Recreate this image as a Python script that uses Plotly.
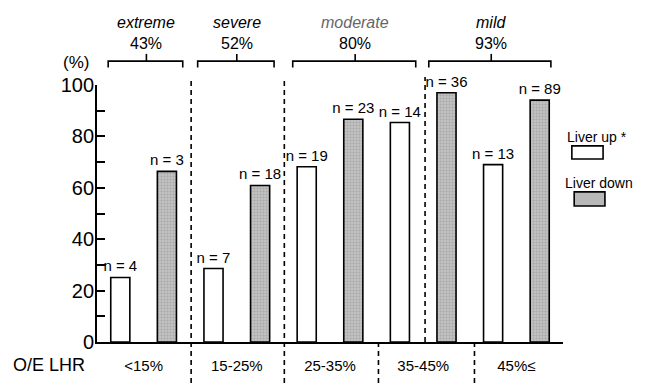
import plotly.graph_objects as go

# ---- data ----
categories = ["<15%", "15-25%", "25-35%", "35-45%", "45%≤"]
liver_up = [25.1, 28.6, 68.2, 85.4, 69.0]
liver_down = [66.4, 60.9, 86.7, 97.0, 94.1]
n_up = ["n = 4", "n = 7", "n = 19", "n = 14", "n = 13"]
n_down = ["n = 3", "n = 18", "n = 23", "n = 36", "n = 89"]
severity = ["extreme", "severe", "moderate", "mild"]
severity_pct = ["43%", "52%", "80%", "93%"]
y_ticks = [0, 20, 40, 60, 80, 100]

FONT = "Liberation Sans, Arial, sans-serif"

fig = go.Figure()
fig.add_trace(go.Bar(
    x=categories, y=liver_up, name="Liver up *",
    marker=dict(color="white", line=dict(color="black", width=1.6)),
    text=n_up, textposition="outside", cliponaxis=False,
    textfont=dict(size=15, color="black", family=FONT),
    constraintext="none",
))
fig.add_trace(go.Bar(
    x=categories, y=liver_down, name="Liver down",
    marker=dict(color="#b8b8b8", line=dict(color="black", width=1.6),
                pattern=dict(shape=".", fgcolor="#8a8a8a", bgcolor="#c2c2c2",
                             size=3, solidity=0.35)),
    text=n_down, textposition="outside", cliponaxis=False,
    textfont=dict(size=15, color="black", family=FONT),
    constraintext="none",
))

shapes = []
annotations = []
dash = dict(color="black", width=1.6, dash="5px,4px")


def note(x, y, text, size, xref="paper", color="black"):
    annotations.append(dict(x=x, y=y, xref=xref, yref="paper", text=text,
                            showarrow=False, xanchor="center", yanchor="middle",
                            font=dict(size=size, family=FONT, color=color)))


# severity dividers in plot area
for xv in [0.51, 1.51]:
    shapes.append(dict(type="line", xref="x", yref="paper", x0=xv, x1=xv,
                       y0=-0.16, y1=1.031, line=dash, layer="above"))
shapes.append(dict(type="line", xref="x", yref="paper", x0=3.02, x1=3.02,
                   y0=0.0, y1=1.031, line=dash, layer="above"))
# O/E LHR dividers below axis
for xv in [2.52, 3.55]:
    shapes.append(dict(type="line", xref="x", yref="paper", x0=xv, x1=xv,
                       y0=-0.16, y1=0.0, line=dash, layer="above"))

# severity brackets
br = [(-0.38, 0.42, 0.03), (0.58, 1.40, 1.0), (1.60, 2.92, 2.27), (3.06, 4.37, 3.73)]
bl = dict(color="black", width=1.6)
for (a, b, c), lab, pct in zip(br, severity, severity_pct):
    shapes.append(dict(type="path", xref="x", yref="paper",
                       path=f"M {a} 1.068 L {a} 1.093 L {b} 1.093 L {b} 1.068",
                       line=bl))
    shapes.append(dict(type="line", xref="x", yref="paper", x0=c, x1=c,
                       y0=1.093, y1=1.121, line=bl))
    note(c, 1.163, pct, 16, xref="x")
    col = "#666666" if lab == "moderate" else "black"
    note(c, 1.245, f"<i>{lab}</i>", 16, xref="x", color=col)

# axis labels
note(-0.045, 1.089, "(%)", 17)
note(-0.104, -0.089, "O/E LHR", 18)

# custom legend (text above box)
note(1.073, 0.798, "Liver up *", 14)
note(1.077, 0.619, "Liver down", 14)
shapes.append(dict(type="rect", xref="paper", yref="paper", x0=1.019, x1=1.086,
                   y0=0.712, y1=0.763, fillcolor="white", line=dict(color="black", width=1.6)))
shapes.append(dict(type="rect", xref="paper", yref="paper", x0=1.024, x1=1.090,
                   y0=0.529, y1=0.584, fillcolor="#b8b8b8", line=dict(color="black", width=1.6)))

fig.update_layout(
    width=647, height=385,
    margin=dict(l=97, r=84, t=85, b=43),
    paper_bgcolor="white", plot_bgcolor="white",
    barmode="group", bargap=0, bargroupgap=0.59,
    showlegend=False,
    font=dict(family=FONT, color="black"),
    shapes=shapes, annotations=annotations,
    xaxis=dict(
        range=[-0.5, 4.5], showgrid=False, zeroline=False, automargin=False,
        showline=True, linecolor="black", linewidth=1.8,
        ticks="", tickfont=dict(size=15, family=FONT, color="black"),
        ticklabelstandoff=9,
    ),
    yaxis=dict(
        range=[0, 100], tickvals=y_ticks, showgrid=False, zeroline=False,
        automargin=False,
        showline=True, linecolor="black", linewidth=1.8,
        ticks="inside", ticklen=8, tickwidth=1.6, tickcolor="black",
        tickfont=dict(size=20, family=FONT, color="black"),
        ticklabelstandoff=-3,
        minor=dict(dtick=10, ticks="inside", ticklen=8, tickwidth=1.6,
                   tickcolor="black", showgrid=False),
    ),
)

fig.write_html("out.html", config={"displayModeBar": False},
               post_script="document.body.style.margin='0px';document.body.style.overflow='hidden';")
